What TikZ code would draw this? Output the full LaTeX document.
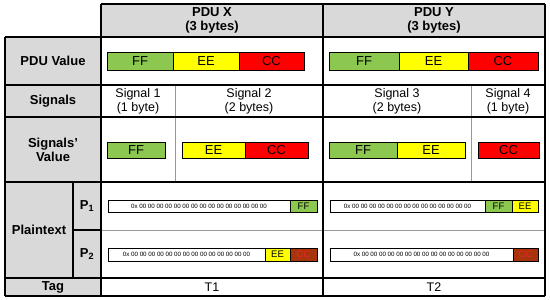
\documentclass[tikz,border=0pt]{standalone}
\usepackage{fontspec}
\setmainfont{Liberation Sans}
\usetikzlibrary{calc, positioning}

\definecolor{byteff}{HTML}{8CC850}
\definecolor{byteee}{HTML}{FFFF00}
\definecolor{bytecc}{HTML}{FF0000}
\definecolor{bytedark}{HTML}{A8330F}
\definecolor{cctext}{HTML}{E8281A}
\definecolor{cellgray}{HTML}{D9D9D9}

\begin{document}
\begin{tikzpicture}[x=1pt, y=-1pt,
  frame/.style={line width=1.4pt},
  divider/.style={gray!80, line width=0.8pt},
  head/.style={font=\bfseries\fontsize{13}{14}\selectfont, align=center},
  sig/.style={font=\fontsize{12.5}{14}\selectfont, align=center},
  bar/.style={draw, line width=1pt},
  bartext/.style={font=\fontsize{13}{13}\selectfont, inner sep=0pt},
  hextext/.style={font=\fontsize{6.2}{6.5}\selectfont, inner sep=0pt},
  smalltext/.style={font=\fontsize{9.5}{9.5}\selectfont, inner sep=0pt}]
\useasboundingbox (0,0) rectangle (550,300);

% column and row positions
\def\cL{5}
\def\cS{73}
\def\cA{101}
\def\cM{323}
\def\cR{545}
\def\rT{4}
\def\rA{37}
\def\rB{85}
\def\rC{117}
\def\rD{182}
\def\rE{230}
\def\rF{278}
\def\rG{296}

% gray cells
\fill[cellgray] (\cA,\rT) rectangle (\cR,\rA);
\fill[cellgray] (\cL,\rA) rectangle (\cA,\rG);

% grid
\draw[divider] (\cA,\rE) -- (\cR,\rE);
\draw[divider] (175,\rB) -- (175,\rD);
\draw[divider] (471,\rB) -- (471,\rD);
\draw[frame] (\cA,\rT) -- (\cR,\rT);
\foreach \r in {\rA,\rB,\rC,\rD,\rF,\rG}
  \draw[frame] (\cL,\r) -- (\cR,\r);
\draw[frame] (\cS,\rE) -- (\cA,\rE);
\draw[frame] (\cL,\rA) -- (\cL,\rG);
\draw[frame] (\cS,\rD) -- (\cS,\rF);
\foreach \c in {\cA,\cM,\cR}
  \draw[frame] (\c,\rT) -- (\c,\rG);

% headers and row labels
\node[head] (pdux) at (212,20.5) {PDU X\\(3 bytes)};
\node[head] (pduy) at (434,20.5) {PDU Y\\(3 bytes)};
\node[head] (pduval) at (53,61) {PDU Value};
\node[head] (signals) at (53,101) {Signals};
\node[head] (sigval) at (53,150) {Signals'\\Value};
\node[head] (plain) at (39,230) {Plaintext};
\node[head] (pone) at (87,206) {P\textsubscript{1}};
\node[head] (ptwo) at (87,254) {P\textsubscript{2}};
\node[head] (tag) at (53,287) {Tag};

% signal names
\node[sig] (sigone) at (138,101) {Signal 1\\(1 byte)};
\node[sig] (sigtwo) at (249,101) {Signal 2\\(2 bytes)};
\node[sig] (sigthree) at (397,101) {Signal 3\\(2 bytes)};
\node[sig] (sigfour) at (508,101) {Signal 4\\(1 byte)};

% tags
\node[sig] (tone) at (212,287.5) {T1};
\node[sig] (ttwo) at (434,287.5) {T2};

% PDU values
\foreach \xa/\xb/\col/\txt [count=\i] in
  {107/173/byteff/FF, 173/239/byteee/EE, 239/304/bytecc/CC,
   329/399/byteff/FF, 399/468/byteee/EE, 468/538/bytecc/CC}
  \draw[bar, fill=\col] (\xa,52) rectangle node[bartext] (pduseg\i) {\txt} (\xb,70);

% signal values
\foreach \xa/\xb/\col/\txt [count=\i] in
  {107/165/byteff/FF, 182/245/byteee/EE, 245/308/bytecc/CC,
   329/397/byteff/FF, 397/465/byteee/EE, 478/539/bytecc/CC}
  \draw[bar, fill=\col] (\xa,142) rectangle node[bartext] (sigseg\i) {\txt} (\xb,158);

% plaintexts
\draw[bar, fill=white] (108,200) rectangle node[hextext] (ponex)
  {0x 00 00 00 00 00 00 00 00 00 00 00 00 00 00 00} (290,212);
\draw[bar, fill=byteff] (290,200) rectangle node[smalltext] (ponexff) {FF} (317,212);

\draw[bar, fill=white] (108,248) rectangle node[hextext] (ptwox)
  {0x 00 00 00 00 00 00 00 00 00 00 00 00 00 00} (265,261);
\draw[bar, fill=byteee] (265,248) rectangle node[smalltext] (ptwoxee) {EE} (290,261);
\draw[bar, fill=bytedark] (290,248) rectangle node[smalltext, text=cctext] (ptwoxcc) {CC} (317,261);

\draw[bar, fill=white] (330,200) rectangle node[hextext] (poney)
  {0x 00 00 00 00 00 00 00 00 00 00 00 00 00 00} (485,212);
\draw[bar, fill=byteff] (485,200) rectangle node[smalltext] (poneyff) {FF} (512,212);
\draw[bar, fill=byteee] (512,200) rectangle node[smalltext] (poneyee) {EE} (538,212);

\draw[bar, fill=white] (330,248) rectangle node[hextext] (ptwoy)
  {0x 00 00 00 00 00 00 00 00 00 00 00 00 00 00 00} (513,261);
\draw[bar, fill=bytedark] (513,248) rectangle node[smalltext, text=cctext] (ptwoycc) {CC} (538,261);
\end{tikzpicture}
\end{document}
